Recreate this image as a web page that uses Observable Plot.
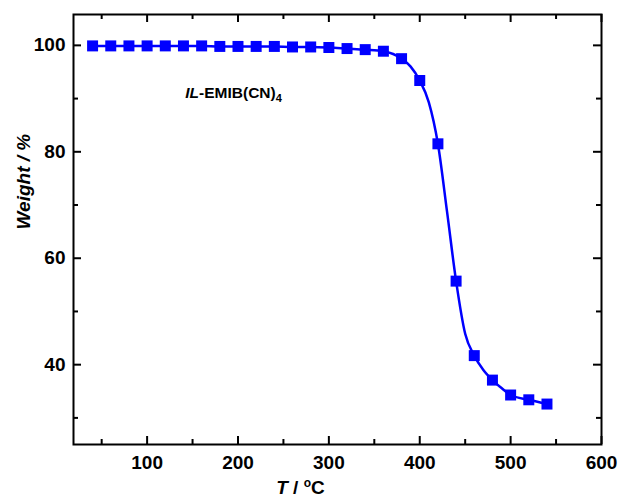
<!DOCTYPE html>
<html><head><meta charset="utf-8">
<script src="https://cdn.jsdelivr.net/npm/d3@7"></script>
<script src="https://cdn.jsdelivr.net/npm/@observablehq/plot@0.6"></script>
<style>
body{margin:0;background:#fff}
svg{font-family:"Liberation Sans",Arial,sans-serif;}
</style>
</head><body><div id="chart"></div>
<script>
const markerT = [40,60,80,100,120,140,160,180,200,220,240,260,280,300,320,340,360,380,400,420,440,460,480,500,520,540];
const markerW = [99.9,99.9,99.9,99.9,99.9,99.9,99.9,99.8,99.8,99.8,99.8,99.7,99.7,99.6,99.4,99.2,98.9,97.5,93.4,81.5,55.7,41.7,37.1,34.3,33.4,32.6];
const lineT = [40,60,80,100,120,140,160,180,200,220,240,260,280,300,320,340,360,380,390,400,410,420,430,440,450,460,470,480,490,500,520,540];
const lineW = [99.9,99.9,99.9,99.9,99.9,99.9,99.9,99.8,99.8,99.8,99.8,99.7,99.7,99.6,99.4,99.2,98.9,97.5,96.0,93.4,89.3,81.5,68.8,55.7,45.8,41.7,39.0,37.1,35.6,34.3,33.4,32.6];
const xTicks = [100,200,300,400,500,600];
const xMinor = [50,150,250,350,450,550];
const yTicks = [40,60,80,100];
const yMinor = [30,50,70,90];
const annoText = ["IL-EMIB(CN)4"];

const points = markerT.map((t,i)=>({t, w: markerW[i]}));
const line = lineT.map((t,i)=>({t, w: lineW[i]}));
const xMin = 19, xMax = 600, yMin = 25, yMax = 105.8;

const tickStyle = {stroke:"black", strokeWidth:2};
const plot = Plot.plot({
  width: 623, height: 500,
  marginLeft: 73, marginRight: 22, marginTop: 14, marginBottom: 56,
  x: {domain:[xMin,xMax]},
  y: {domain:[yMin,yMax]},
  style: {fontFamily:'"Liberation Sans",Arial,sans-serif', background:"white"},
  marks: [
    Plot.ruleX(xTicks, {x: d=>d, y1: yMin, y2: yMin, insetTop: -8, ...tickStyle}),
    Plot.ruleX(xMinor, {x: d=>d, y1: yMin, y2: yMin, insetTop: -5, ...tickStyle}),
    Plot.ruleX(xTicks, {x: d=>d, y1: yMax, y2: yMax, insetBottom: -8, ...tickStyle}),
    Plot.ruleX(xMinor, {x: d=>d, y1: yMax, y2: yMax, insetBottom: -5, ...tickStyle}),
    Plot.ruleY(yTicks, {y: d=>d, x1: xMin, x2: xMin, insetRight: -8, ...tickStyle}),
    Plot.ruleY(yMinor, {y: d=>d, x1: xMin, x2: xMin, insetRight: -5, ...tickStyle}),
    Plot.ruleY(yTicks, {y: d=>d, x1: xMax, x2: xMax, insetLeft: -8, ...tickStyle}),
    Plot.ruleY(yMinor, {y: d=>d, x1: xMax, x2: xMax, insetLeft: -5, ...tickStyle}),
    Plot.axisX(xTicks, {anchor:"bottom", tickSize:0, tickPadding:11, label:null, fontSize:19, fontWeight:"bold", fill:"black"}),
    Plot.axisY(yTicks, {anchor:"left", tickSize:0, tickPadding:8, label:null, fontSize:19, fontWeight:"bold", fill:"black"}),
    Plot.line(line, {x:"t", y:"w", stroke:"#0000ff", strokeWidth:2.5, curve:"monotone-x"}),
    Plot.dot(points, {x:"t", y:"w", symbol:"square", r:6.2, fill:"#0000ff", stroke:"none"}),
    Plot.text(annoText, {x: ()=>142, y: ()=>91, text: d=>d, textAnchor:"start", fontSize:15.5, fontWeight:"bold", fill:"black", className:"anno"}),
    Plot.text(["T / oC"], {frameAnchor:"bottom", dx:-37, dy:49, text:d=>d, fontSize:19, fontWeight:"bold", fill:"black", className:"xtitle"}),
    Plot.text(["Weight / %"], {frameAnchor:"left", dx:-50, rotate:-90, text:d=>d, fontSize:19, fontWeight:"bold", fontStyle:"italic", fill:"black"}),
    Plot.frame({stroke:"black", strokeWidth:2})
  ]
});
const svg = d3.select(plot);
svg.select(".anno text").each(function(){
  const t = d3.select(this); t.text("");
  t.append("tspan").attr("font-style","italic").text("IL");
  t.append("tspan").text("-EMIB(CN)");
  t.append("tspan").attr("font-size","11").attr("dy","4").text("4");
});
svg.select(".xtitle text").each(function(){
  const t = d3.select(this); t.text("");
  t.append("tspan").attr("font-style","italic").text("T");
  t.append("tspan").text(" / ");
  t.append("tspan").attr("font-size","12").attr("dy","-7").text("o");
  t.append("tspan").attr("dy","7").text("C");
});
document.getElementById("chart").appendChild(plot);
</script>
</body></html>
